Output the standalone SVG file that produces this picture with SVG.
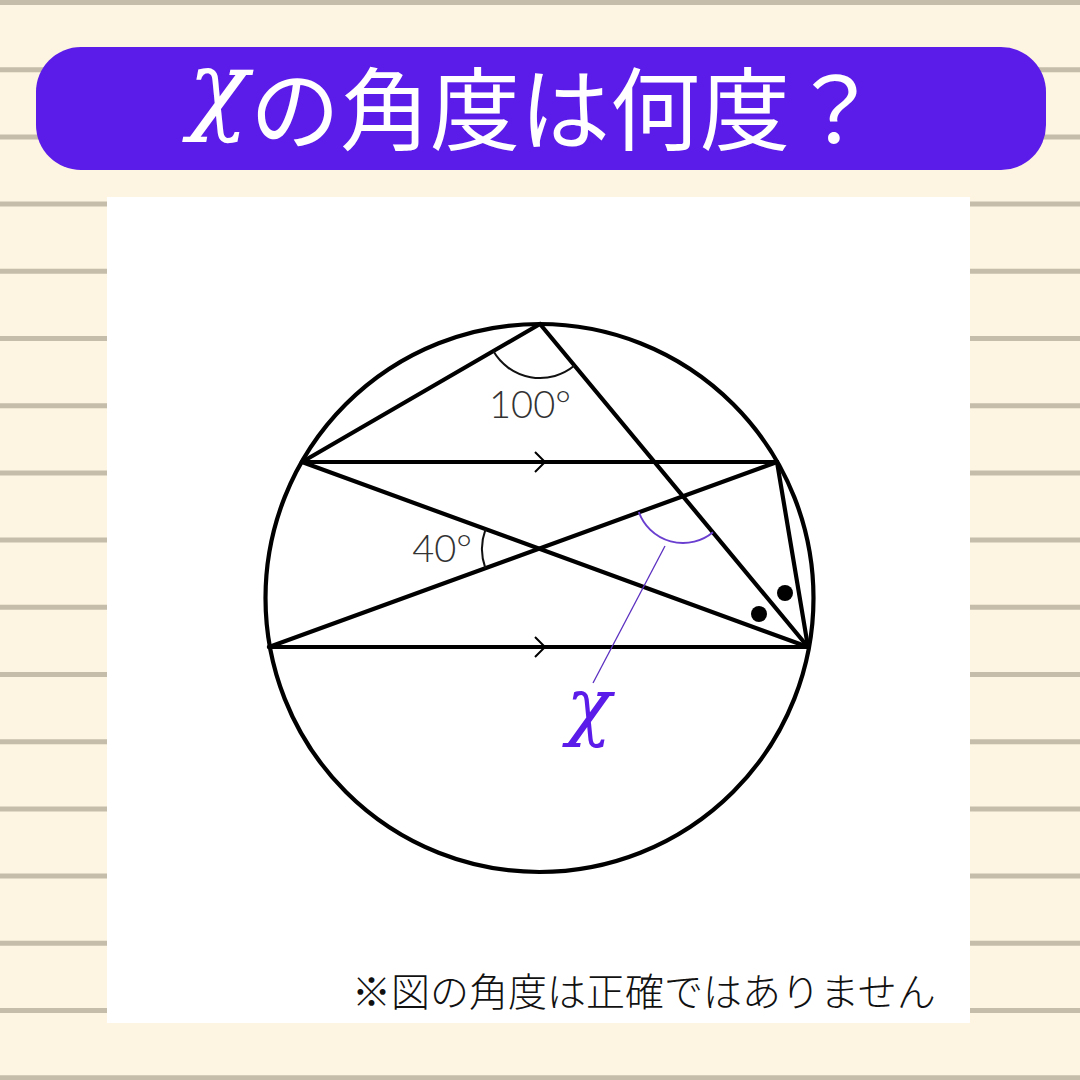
<svg xmlns="http://www.w3.org/2000/svg" width="1080" height="1080" viewBox="0 0 1080 1080">
<style>
.rule{stroke:#c5bda9;stroke-width:5}
.ln{stroke:#000;stroke-width:4.2;fill:none;stroke-linecap:round}
.chev{stroke:#000;stroke-width:2;fill:none}
.ang{stroke:#111;stroke-width:2;fill:none}
.deg{font-family:Lato,"Liberation Sans",sans-serif;font-weight:300;font-size:38px;fill:#333}
</style>
<rect width="1080" height="1080" fill="#fdf5e1"/>
<g id="rules">
<line class="rule" x1="0" y1="2.5" x2="1080" y2="2.5"/>
<line class="rule" x1="0" y1="69.7" x2="1080" y2="69.7"/>
<line class="rule" x1="0" y1="136.9" x2="1080" y2="136.9"/>
<line class="rule" x1="0" y1="204.1" x2="1080" y2="204.1"/>
<line class="rule" x1="0" y1="271.3" x2="1080" y2="271.3"/>
<line class="rule" x1="0" y1="338.5" x2="1080" y2="338.5"/>
<line class="rule" x1="0" y1="405.7" x2="1080" y2="405.7"/>
<line class="rule" x1="0" y1="472.9" x2="1080" y2="472.9"/>
<line class="rule" x1="0" y1="540.1" x2="1080" y2="540.1"/>
<line class="rule" x1="0" y1="607.3" x2="1080" y2="607.3"/>
<line class="rule" x1="0" y1="674.5" x2="1080" y2="674.5"/>
<line class="rule" x1="0" y1="741.7" x2="1080" y2="741.7"/>
<line class="rule" x1="0" y1="808.9" x2="1080" y2="808.9"/>
<line class="rule" x1="0" y1="876.1" x2="1080" y2="876.1"/>
<line class="rule" x1="0" y1="943.3" x2="1080" y2="943.3"/>
<line class="rule" x1="0" y1="1010.5" x2="1080" y2="1010.5"/>
<line class="rule" x1="0" y1="1077.7" x2="1080" y2="1077.7"/>
</g>
<g id="title">
<rect x="36" y="47" width="1010" height="123" rx="45" fill="#5b1be8"/>
<text x="188" y="121" font-family="'DejaVu Serif',serif" font-style="italic" font-size="100" fill="#fff">χ</text>
<text x="250" y="143" font-family="'Noto Sans CJK JP',sans-serif" font-size="90" fill="#fff">の角度は何度？</text>
</g>
<rect id="panel" x="107" y="197" width="863" height="826" fill="#fff"/>
<g id="figure">
<circle class="ln" cx="539.5" cy="598" r="274"/>
</g>
<g id="connectors">
<line class="ln" x1="540" y1="324" x2="302" y2="462"/>
<line class="ln" x1="540" y1="324" x2="808" y2="647"/>
<line class="ln" x1="302" y1="462" x2="777" y2="462"/>
<line class="ln" x1="302" y1="462" x2="808" y2="647"/>
<line class="ln" x1="777" y1="462" x2="269" y2="647"/>
<line class="ln" x1="777" y1="462" x2="808" y2="647"/>
<line class="ln" x1="269" y1="647" x2="808" y2="647"/>
<path class="chev" d="M535 452 L545 462 L535 472"/>
<path class="chev" d="M535 637 L545 647 L535 657"/>
</g>
<g id="angles">
<path class="ang" d="M493.3 351.1 A54 54 0 0 0 574.5 365.6"/>
<text class="deg" x="530" y="418" text-anchor="middle">100°</text>
<path class="ang" d="M485.5 529.4 A57 57 0 0 0 485.4 568.4"/>
<text class="deg" x="472" y="562" text-anchor="end">40°</text>
<path d="M638.8 512 A47 47 0 0 0 713 532.2" fill="none" stroke="#6a3fd0" stroke-width="2"/>
<line x1="665" y1="546" x2="593" y2="683" stroke="#5b2fc0" stroke-width="1.3"/>
<circle cx="785" cy="593" r="8" fill="#000"/>
<circle cx="759" cy="614" r="8" fill="#000"/>
<text x="589" y="731" text-anchor="middle" font-family="'DejaVu Serif',serif" font-style="italic" font-size="74" fill="#5b1be8">χ</text>
</g>
<text id="note" x="352" y="1006" font-family="'Noto Sans CJK JP',sans-serif" font-weight="300" font-size="39" fill="#111">※図の角度は正確ではありません</text>
</svg>
